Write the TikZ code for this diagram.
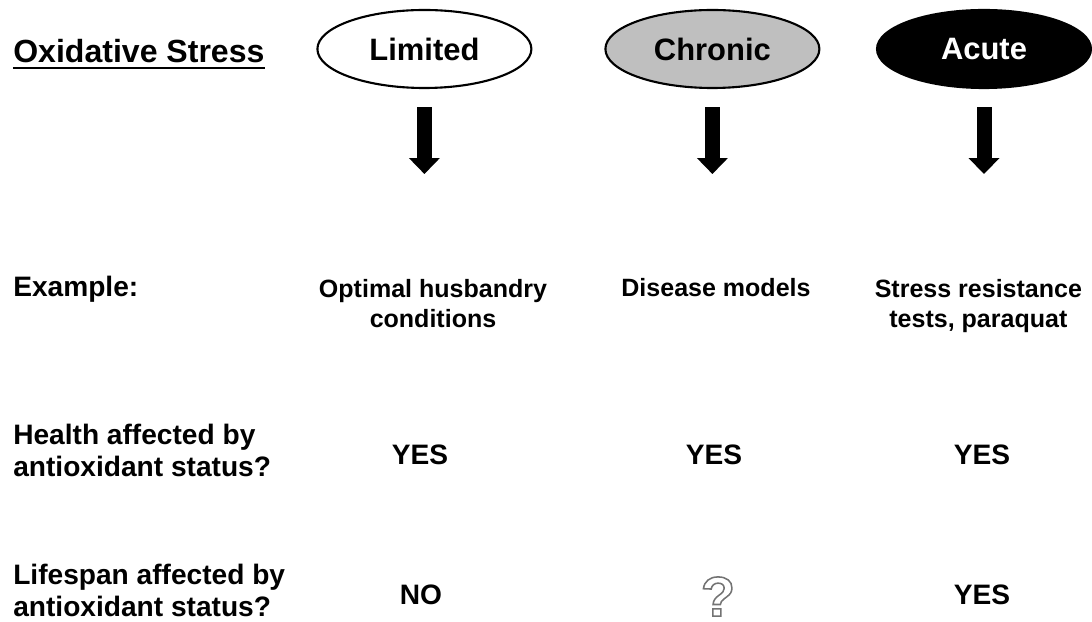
\documentclass[tikz,border=0pt]{standalone}
\usepackage{fontspec}
\setmainfont{Liberation Sans}
\usetikzlibrary{arrows.meta,shapes.geometric}
\newcommand{\hollow}[1]{\special{pdf:code q 1 Tr 1.1 w 0.45 G}#1\special{pdf:code Q}}
\tikzset{oval/.style={ellipse,draw,line width=1.5pt,minimum width=5.35cm,minimum height=1.95cm,inner sep=0pt,font=\fontsize{22}{26}\selectfont\bfseries},
  rowlab/.style={anchor=base west,inner sep=0pt,align=left,font=\fontsize{20}{22.8}\selectfont\bfseries},
  entry/.style={anchor=base,inner sep=0pt,align=center,font=\fontsize{17.8}{22}\selectfont\bfseries},
  answer/.style={anchor=base,inner sep=0pt,font=\fontsize{20}{24}\selectfont\bfseries},
  bigarr/.style={-{Triangle[length=0.4cm,width=0.75cm]},line width=0.375cm}}

\begin{document}
\begin{tikzpicture}
\useasboundingbox (0,0) rectangle (27.3,15.525);
% header
\node[anchor=base west,inner sep=0pt,font=\fontsize{22.8}{26}\selectfont\bfseries] (os) at (0.325,13.95) {Oxidative Stress};
\draw[line width=1.4pt] ([yshift=-0.125cm]os.base west) -- ([yshift=-0.125cm]os.base east);
\foreach \n/\x/\t/\f/\c in {lim/10.61/Limited/white/black,chr/17.81/Chronic/black!25/black,acu/24.6/Acute/black/white}{
  \node[oval,fill=\f,text=\c] (\n) at (\x,14.3) {\t};
  \draw[bigarr] ([yshift=-0.45cm]\n.south) -- ++(0,-1.675);
}
% rows (base = last line)
\node[rowlab] (ex) at (0.325,8.1) {Example:};
\node[rowlab] (hl) at (0.325,3.6) {Health affected by\\antioxidant status?};
\node[rowlab] (ls) at (0.325,0.1) {Lifespan affected by\\antioxidant status?};
\node[entry] (ex1) at (10.825,7.325) {Optimal husbandry\\conditions};
\node[entry] (ex2) at (17.9,8.1) {Disease models};
\node[entry] (ex3) at (24.46,7.325) {Stress resistance\\tests, paraquat};
\node[answer] (hl1) at (10.5,3.9) {YES};
\node[answer] (hl2) at (17.85,3.9) {YES};
\node[answer] (hl3) at (24.55,3.9) {YES};
\node[answer] (ls1) at (10.525,0.425) {NO};
\node[anchor=base,inner sep=0pt,font=\fontsize{40}{44}\selectfont\bfseries] (ls2) at (17.95,0.12) {\hollow{?}};
\node[answer] (ls3) at (24.55,0.425) {YES};
\end{tikzpicture}
\end{document}
